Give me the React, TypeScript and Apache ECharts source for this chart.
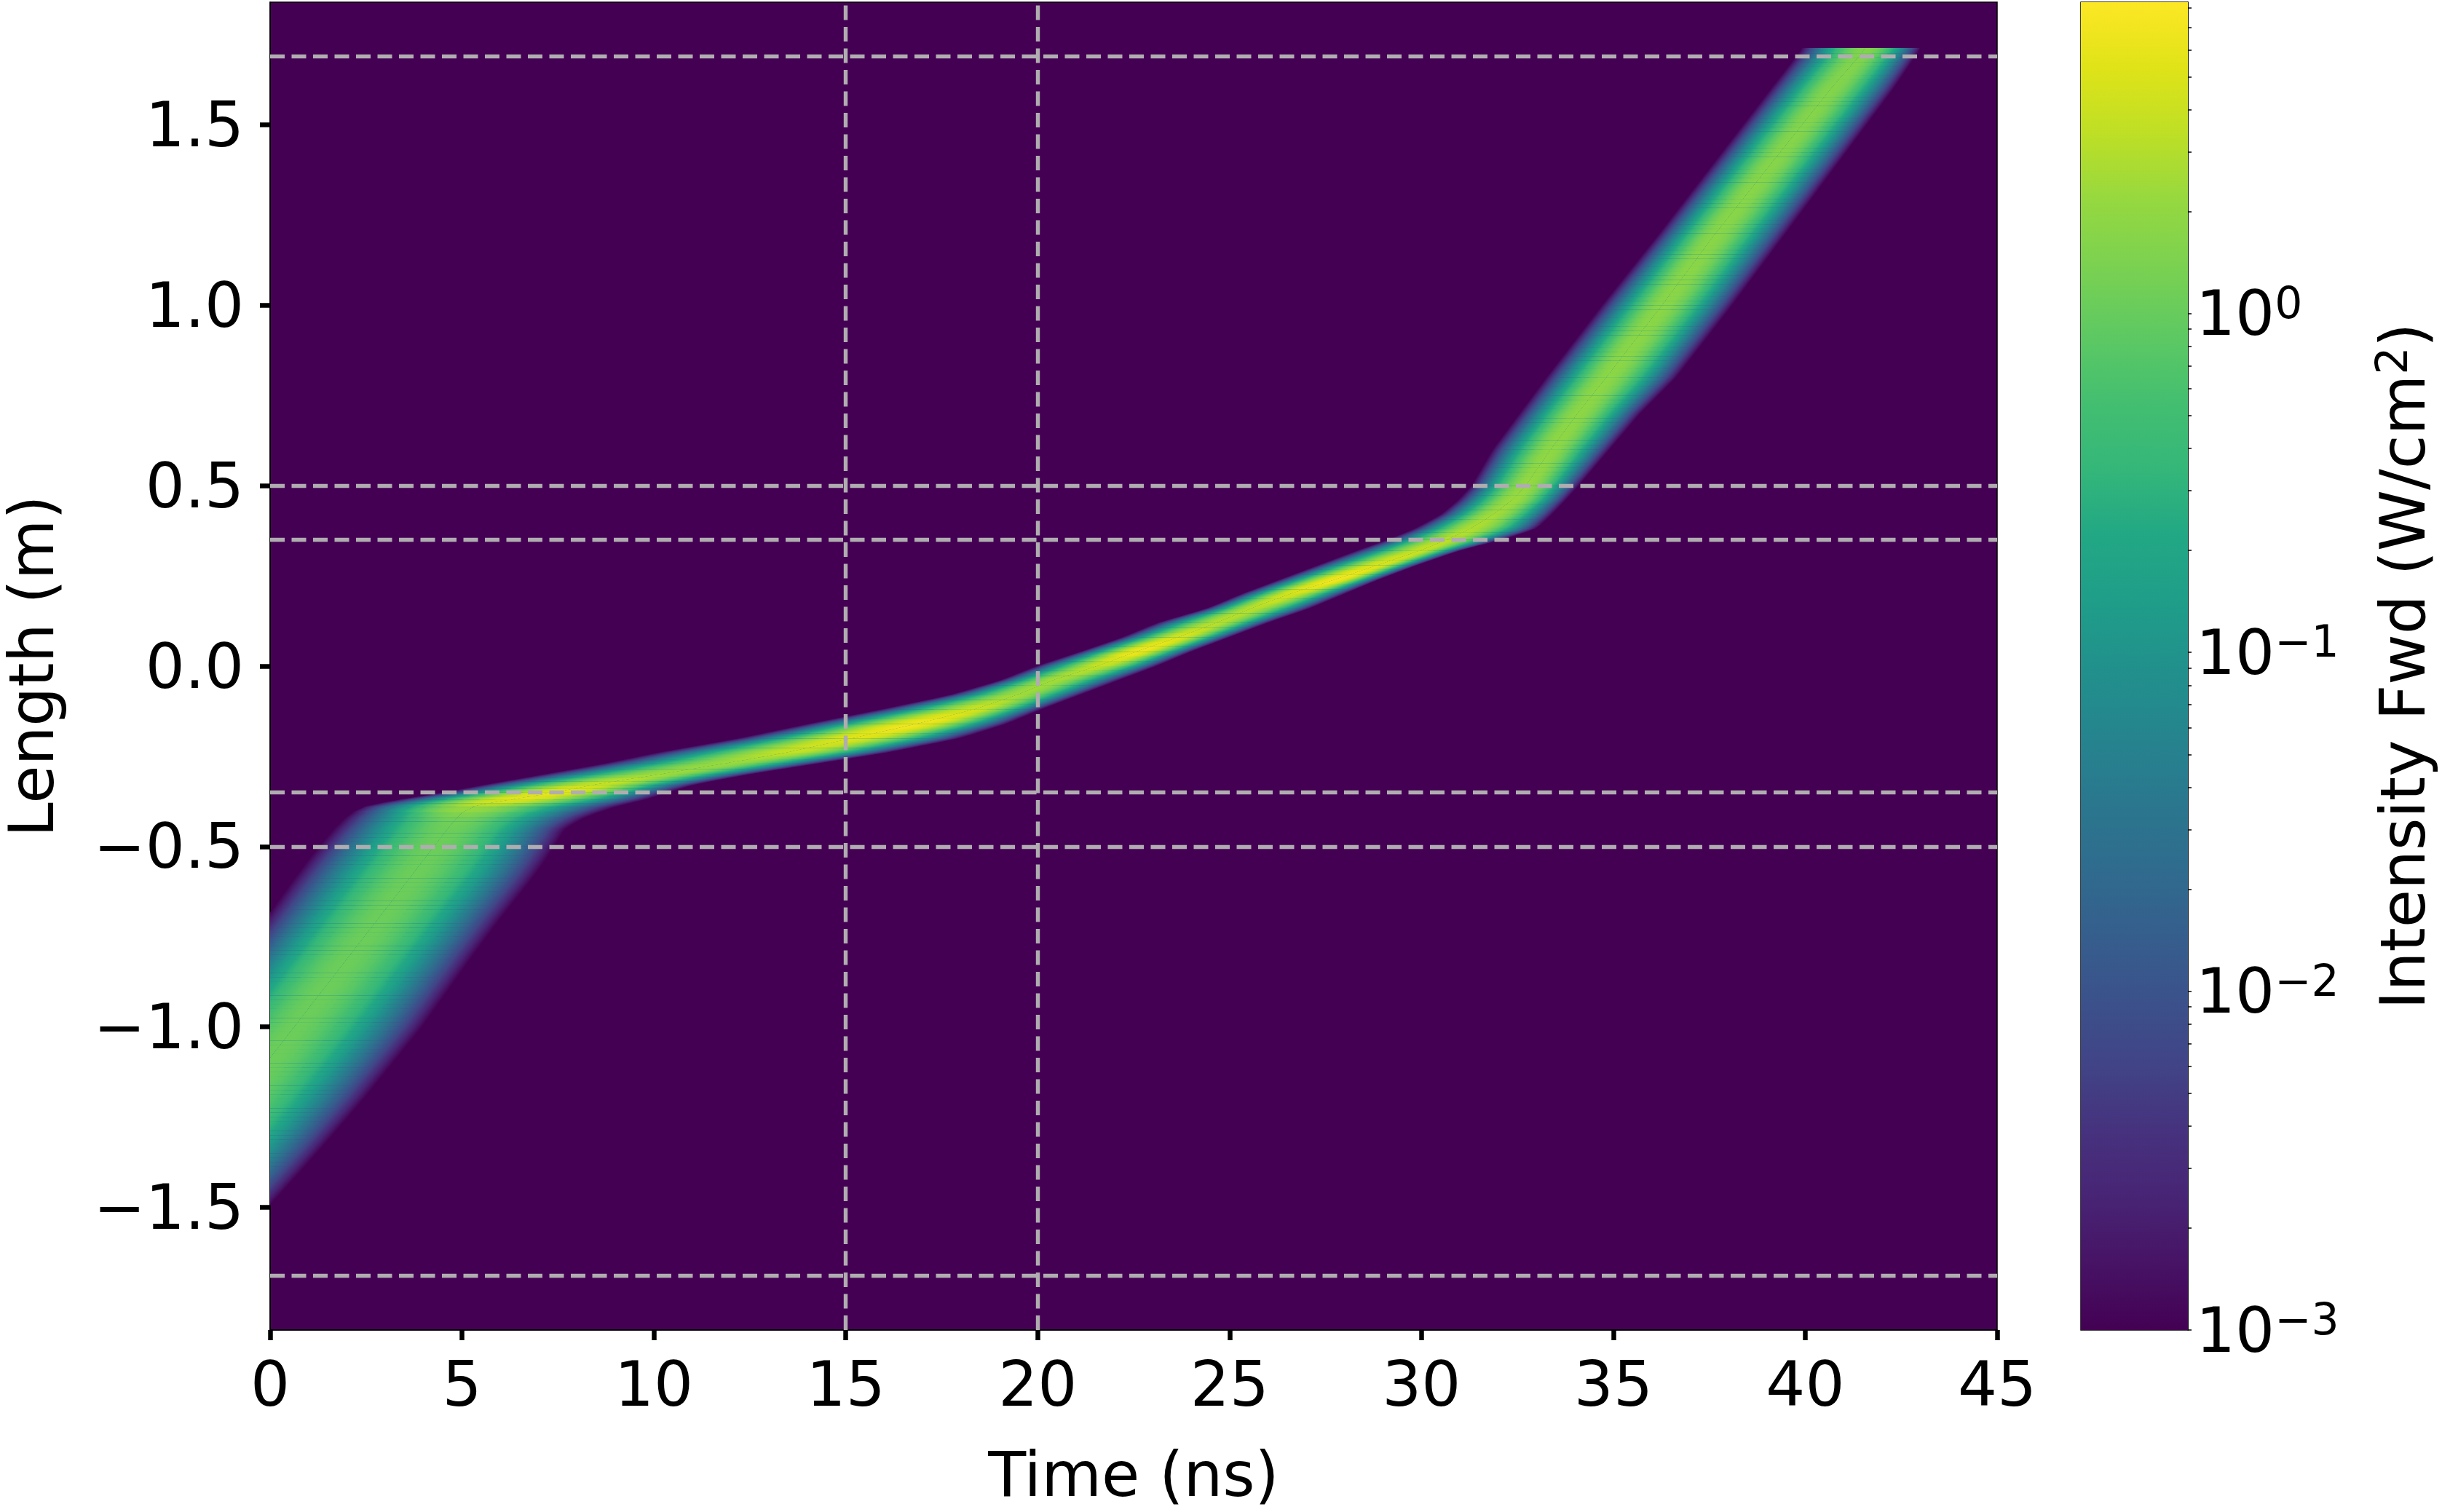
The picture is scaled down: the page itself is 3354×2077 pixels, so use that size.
import React, { useEffect, useRef } from "react";
import * as echarts from "echarts";

// Cross-sections of the pulse along the fibre.
// Position along the fibre (m)
const lengthM = [-1.5, -1.4, -1.3, -1.2, -1.1, -1, -0.9, -0.8, -0.7, -0.6, -0.55, -0.5, -0.45, -0.42, -0.39, -0.37, -0.35, -0.33, -0.3, -0.27, -0.24, -0.2, -0.16, -0.12, -0.08, -0.04, 0, 0.04, 0.08, 0.12, 0.16, 0.2, 0.24, 0.28, 0.32, 0.35, 0.38, 0.42, 0.46, 0.5, 0.6, 0.7, 0.8, 1, 1.2, 1.4, 1.6, 1.71];
// Time at which the pulse's leading edge becomes visible (ns); negative = before the plotted window
const leadingEdge = [-5.7, -5, -4.3, -3.6, -2.9, -2.2, -1.5, -0.82, -0.12, 0.55, 0.9, 1.27, 1.67, 1.95, 2.35, 3.3, 4.5, 5.5, 7.1, 8.7, 10.05, 12.2, 14, 15.9, 17.7, 19, 19.95, 21.1, 22.2, 23.1, 24.4, 25.3, 26.3, 27.3, 28.3, 29.1, 29.8, 30.5, 30.95, 31.3, 31.85, 32.55, 33.25, 34.7, 36.2, 37.65, 39.1, 39.9];
// Time of the pulse's peak (ns)
const peakTime = [-3, -2.26, -1.53, -0.8, -0.07, 0.66, 1.39, 2.12, 2.85, 3.58, 3.94, 4.3, 4.67, 4.9, 5.2, 6.3, 7.5, 8.4, 10.2, 11.9, 13.5, 15.2, 16.9, 18.4, 19.5, 20.4, 21.6, 22.6, 23.7, 24.7, 25.6, 26.6, 27.8, 28.9, 30, 30.7, 31.3, 31.9, 32.4, 32.75, 33.4, 34.1, 34.85, 36.3, 37.7, 39.2, 40.7, 41.6];
// Time at which the pulse's trailing edge fades out (ns)
const trailingEdge = [-0.05, 0.8, 1.63, 2.44, 3.2, 3.96, 4.63, 5.3, 6, 6.75, 7.1, 7.4, 7.7, 8.2, 9, 9.8, 10.4, 11, 12.5, 14.3, 16.1, 18, 19.2, 20.1, 21.1, 22.1, 23.1, 24, 25, 26, 27.1, 28, 28.9, 29.9, 31, 32.1, 33, 33.4, 33.76, 34.1, 34.9, 35.7, 36.64, 38.1, 39.5, 40.9, 42.3, 43];
// log10 of the peak intensity (W/cm²)
const peakLog = [-0.02, 0, 0.02, 0.03, 0.04, 0.04, 0.04, 0.04, 0.04, 0.04, 0.04, 0.04, 0.05, 0.1, 0.4, 0.78, 0.8, 0.62, 0.38, 0.33, 0.55, 0.72, 0.86, 0.62, 0.38, 0.4, 0.55, 0.86, 0.7, 0.48, 0.5, 0.68, 0.88, 0.72, 0.58, 0.52, 0.46, 0.4, 0.36, 0.33, 0.29, 0.28, 0.27, 0.26, 0.25, 0.23, 0.21, 0.2];

const xTicks = [0, 5, 10, 15, 20, 25, 30, 35, 40, 45];
const yTicks = [-1.5, -1, -0.5, 0, 0.5, 1, 1.5];
const horizontalMarks = [1.69, 0.5, 0.35, -0.35, -0.5, -1.69];
const verticalMarks = [15, 20];
const barDecades = [-3, -2, -1, 0];
const barRange = [-3, 0.919];
const barMinorFactors = [2, 3, 4, 5, 6, 7, 8, 9];

const Y_LIMIT = 1.84;
const FONT = "'DejaVu Sans'";
const FONT_SIZE = 85;
const SUP_SIZE = 60;

const VIRIDIS = ["#440154", "#471365", "#482475", "#46327e", "#414487", "#3b528b", "#355f8d", "#2f6c8e", "#2a788e", "#25858e", "#21918c", "#1f9e89", "#22a884", "#35b779", "#44bf70", "#5ec962", "#7ad151", "#95d840", "#bddf26", "#dfe318", "#fde725"];

function hexRgb(h: string) {
  return [parseInt(h.slice(1, 3), 16), parseInt(h.slice(3, 5), 16), parseInt(h.slice(5, 7), 16)];
}
function viridis(u: number) {
  const c = Math.max(0, Math.min(0.9999, u)) * (VIRIDIS.length - 1);
  const i = Math.floor(c);
  const a = hexRgb(VIRIDIS[i]);
  const b = hexRgb(VIRIDIS[i + 1]);
  const m = c - i;
  return `rgb(${a.map((v, j) => Math.round(v + (b[j] - v) * m)).join(",")})`;
}
function lerpAt(arr: number[], y: number) {
  const n = lengthM.length;
  if (y <= lengthM[0]) return arr[0];
  if (y >= lengthM[n - 1]) return arr[n - 1];
  let i = 0;
  while (lengthM[i + 1] < y) i++;
  return arr[i] + ((arr[i + 1] - arr[i]) * (y - lengthM[i])) / (lengthM[i + 1] - lengthM[i]);
}
// light rounding of the read polyline so its corners do not show
function at(arr: number[], y: number) {
  const d = 0.008;
  return (lerpAt(arr, y - d) + 2 * lerpAt(arr, y) + lerpAt(arr, y + d)) / 4;
}

const BAND_FRACTIONS = [1, 0.86, 0.72, 0.58, 0.44, 0.3, 0.16, 0];
const STRIP_M = 0.012;
const OVERLAP_M = 0.003;
const CENTRE_OVERLAP_NS = 0.03;

function renderBand(params: any, api: any) {
  const i = params.dataIndex;
  if (i >= lengthM.length - 1) return null;
  const children: any[] = [];
  const a0 = lengthM[i];
  const a1 = lengthM[i + 1];
  const parts = Math.max(1, Math.round((a1 - a0) / STRIP_M));
  const px = (t: number, y: number) => api.coord([t, y]);
  for (let s = 0; s < parts; s++) {
    const y0 = a0 + ((a1 - a0) * s) / parts;
    const y1 = a0 + ((a1 - a0) * (s + 1)) / parts;
    const y1o = y1 + OVERLAP_M;
    const ym = (y0 + y1) / 2;
    const peak = at(peakLog, ym);
    for (const edge of [leadingEdge, trailingEdge]) {
      const sign = edge === leadingEdge ? 1 : -1;
      const c = (f: number, y: number) => {
        const r = at(peakTime, y);
        return r + f * (at(edge, y) - r);
      };
      for (let k = 0; k < BAND_FRACTIONS.length - 1; k++) {
        const fo = BAND_FRACTIONS[k];
        const fi = BAND_FRACTIONS[k + 1];
        const pts = [
          px(c(fo, y0), y0),
          px(c(fo, y1o), y1o),
          px(c(0, y1o) + sign * CENTRE_OVERLAP_NS, y1o),
          px(c(0, y0) + sign * CENTRE_OVERLAP_NS, y0),
        ];
        const fm = (fo + fi) / 2;
        const a = px(c(fi, ym), ym);
        const b = px(c(fo, ym), ym);
        const d0 = px(c(fm, y0), y0);
        const d1 = px(c(fm, y1), y1);
        const dx = d1[0] - d0[0];
        const dy = d1[1] - d0[1];
        const len = Math.hypot(dx, dy) || 1;
        const nx = -dy / len;
        const ny = dx / len;
        const l = (b[0] - a[0]) * nx + (b[1] - a[1]) * ny;
        const stops = [0, 0.25, 0.5, 0.75, 1].map((w) => {
          const f = fi + (fo - fi) * w;
          const lg = peak - (peak + 3) * f * f;
          return { offset: w, color: viridis((lg + 3) / (barRange[1] - barRange[0])) };
        });
        children.push({
          type: "polygon",
          silent: true,
          shape: { points: pts },
          style: {
            fill: {
              type: "linear",
              global: true,
              x: a[0],
              y: a[1],
              x2: a[0] + nx * l,
              y2: a[1] + ny * l,
              colorStops: stops,
            },
          },
        });
      }
    }
  }
  return { type: "group", children };
}

function renderBar(_params: any, api: any) {
  const a = api.coord([api.value(0), api.value(1)]);
  const b = api.coord([api.value(2), api.value(3)]);
  return {
    type: "rect",
    silent: true,
    shape: { x: a[0], y: b[1], width: b[0] - a[0], height: a[1] - b[1] },
    style: {
      fill: {
        type: "linear",
        x: 0,
        y: 1,
        x2: 0,
        y2: 0,
        colorStops: VIRIDIS.map((color, i) => ({ offset: i / (VIRIDIS.length - 1), color })),
      },
    },
  };
}

const minusSign = (s: string) => s.replace("-", "\u2212");

export default function App() {
  const ref = useRef<HTMLDivElement>(null);
  useEffect(() => {
    const chart = echarts.init(ref.current!, null, { renderer: "svg" });
    const barTicks: number[] = [];
    barDecades.forEach((d) => {
      barTicks.push(d);
      barMinorFactors.forEach((m) => {
        const v = d + Math.log10(m);
        if (v <= barRange[1]) barTicks.push(v);
      });
    });
    const text = { fontFamily: FONT, fontSize: FONT_SIZE, color: "#000" };
    chart.setOption({
      animation: false,
      backgroundColor: "#fff",
      textStyle: { fontFamily: FONT },
      grid: [
        { left: 371, width: 2372, top: 3, height: 1824, show: true, backgroundColor: "#440154", borderColor: "#000", borderWidth: 1.5, outerBoundsMode: "none" },
        { left: 2858, width: 147, top: 3, height: 1824, show: true, backgroundColor: "#fff", borderColor: "#000", borderWidth: 1.5, outerBoundsMode: "none" },
      ],
      xAxis: [
        {
          gridIndex: 0,
          type: "value",
          min: 0,
          max: 45,
          interval: 5,
          name: "Time (ns)",
          nameLocation: "middle",
          nameGap: 156,
          nameTextStyle: text,
          splitLine: { show: false },
          axisLine: { onZero: false, lineStyle: { color: "#000", width: 1.5 } },
          axisTick: { length: 14, lineStyle: { color: "#000", width: 6.5 } },
          axisLabel: { ...text, margin: 32, formatter: (v: number) => String(v), customValues: xTicks },
        },
        { gridIndex: 1, type: "value", min: 0, max: 1, show: false },
      ],
      yAxis: [
        {
          gridIndex: 0,
          type: "value",
          min: -Y_LIMIT,
          max: Y_LIMIT,
          name: "Length (m)",
          nameLocation: "middle",
          nameGap: 285,
          nameTextStyle: text,
          splitLine: { show: false },
          axisLine: { onZero: false, lineStyle: { color: "#000", width: 1.5 } },
          axisTick: { length: 14, lineStyle: { color: "#000", width: 6.5 }, customValues: yTicks },
          axisLabel: { ...text, margin: 36, formatter: (v: number) => minusSign(v.toFixed(1)), customValues: yTicks },
        },
        {
          gridIndex: 1,
          type: "value",
          position: "right",
          min: barRange[0],
          max: barRange[1],
          name: "Intensity Fwd (W/cm{s|2})",
          nameLocation: "middle",
          nameRotate: 90,
          nameGap: 250,
          nameTextStyle: {
            ...text,
            rich: {
              s: { fontFamily: FONT, fontSize: SUP_SIZE, color: "#000", verticalAlign: "top", padding: [0, 0, 30, 0] },
            },
          },
          splitLine: { show: false },
          axisLine: { onZero: false, lineStyle: { color: "#000", width: 1.5 } },
          axisTick: { length: 5, lineStyle: { color: "#000", width: 1.5 }, customValues: barTicks },
          axisLabel: {
            margin: 11,
            customValues: barDecades,
            formatter: (v: number) => `{b|10}{s|${minusSign(String(v))}}`,
            rich: {
              b: { fontFamily: FONT, fontSize: FONT_SIZE, color: "#000" },
              s: { fontFamily: FONT, fontSize: SUP_SIZE, color: "#000", verticalAlign: "top", padding: [0, 0, 30, 0] },
            },
          },
        },
      ],
      series: [
        {
          type: "custom",
          xAxisIndex: 0,
          yAxisIndex: 0,
          coordinateSystem: "cartesian2d",
          clip: true,
          silent: true,
          z: 2,
          data: lengthM.map((y, i) => [peakTime[i], y, leadingEdge[i], trailingEdge[i], peakLog[i]]),
          encode: { x: 0, y: 1 },
          renderItem: renderBand,
        },
        {
          type: "line",
          xAxisIndex: 0,
          yAxisIndex: 0,
          data: [],
          silent: true,
          z: 3,
          markLine: {
            silent: true,
            symbol: "none",
            animation: false,
            label: { show: false },
            lineStyle: { color: "#b0adb0", width: 5.4, type: [20, 9.5], opacity: 1 },
            data: [
              ...horizontalMarks.map((yAxis) => ({ yAxis })),
              ...verticalMarks.map((xAxis) => ({ xAxis })),
            ],
          },
        },
        {
          type: "custom",
          xAxisIndex: 1,
          yAxisIndex: 1,
          coordinateSystem: "cartesian2d",
          silent: true,
          data: [[0, barRange[0], 1, barRange[1]]],
          encode: { x: [0, 2], y: [1, 3] },
          renderItem: renderBar,
        },
      ],
    });
    return () => chart.dispose();
  }, []);
  return <div ref={ref} style={{ position: "absolute", left: 0, top: 0, width: 3354, height: 2077 }} />;
}
